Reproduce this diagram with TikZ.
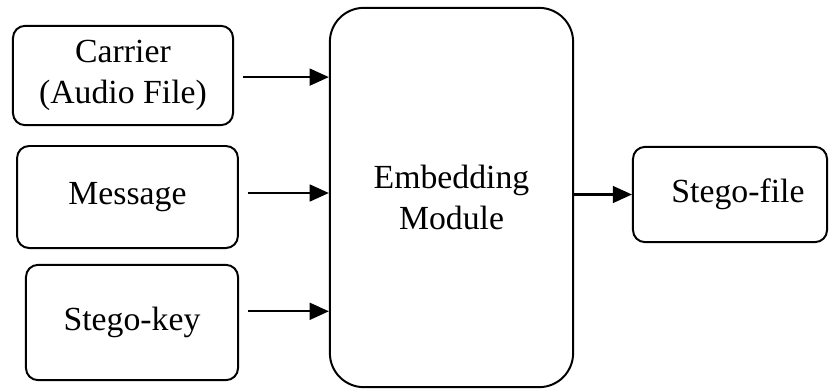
\documentclass[tikz,border=0pt]{standalone}
\usepackage{fontspec}
\setmainfont{Liberation Serif}
\usetikzlibrary{arrows.meta}

\begin{document}
\begin{tikzpicture}[x=0.025cm,y=-0.025cm,
            blk/.style={draw,rounded corners=0.3cm,line width=1.4pt,align=center,
              inner sep=0pt,font=\fontsize{24}{29}\selectfont},
            mdl/.style={blk,rounded corners=0.85cm},
            arr/.style={-{Triangle[length=0.48cm,width=0.42cm]},line width=1.6pt}]

            \useasboundingbox (0,0) rectangle (829,390);

            % the three inputs on the left
            \node[blk,minimum width=5.5cm,minimum height=2.48cm] (carrier) at (123,75.5)
              {Carrier\\(Audio File)};
            \node[blk,minimum width=5.52cm,minimum height=2.55cm] (msg) at (127.5,197) {Message};
            \node[blk,minimum width=5.3cm,minimum height=2.88cm] (key) at (132,322.5) {Stego-key};

            % the module and its output
            \node[mdl,minimum width=6.08cm,minimum height=9.48cm] (embed) at (451.5,197.5)
              {Embedding\\Module};
            \node[blk,minimum width=4.85cm,minimum height=2.38cm] (sfile) at (730,194.5)
              {\hspace*{0.4cm}Stego-file};

            \draw[arr,shorten <=0.22cm] ([yshift=-0.04cm]carrier.east) -- ([yshift=-0.04cm]carrier.east -| embed.west);
            \draw[arr,shorten <=0.22cm] ([yshift=0.1cm]msg.east) -- ([yshift=0.1cm]msg.east -| embed.west);
            \draw[arr,shorten <=0.22cm] ([yshift=0.28cm]key.east) -- ([yshift=0.28cm]key.east -| embed.west);
            \draw[arr] (sfile.west -| embed.east) -- (sfile.west);
        \end{tikzpicture}
\end{document}
